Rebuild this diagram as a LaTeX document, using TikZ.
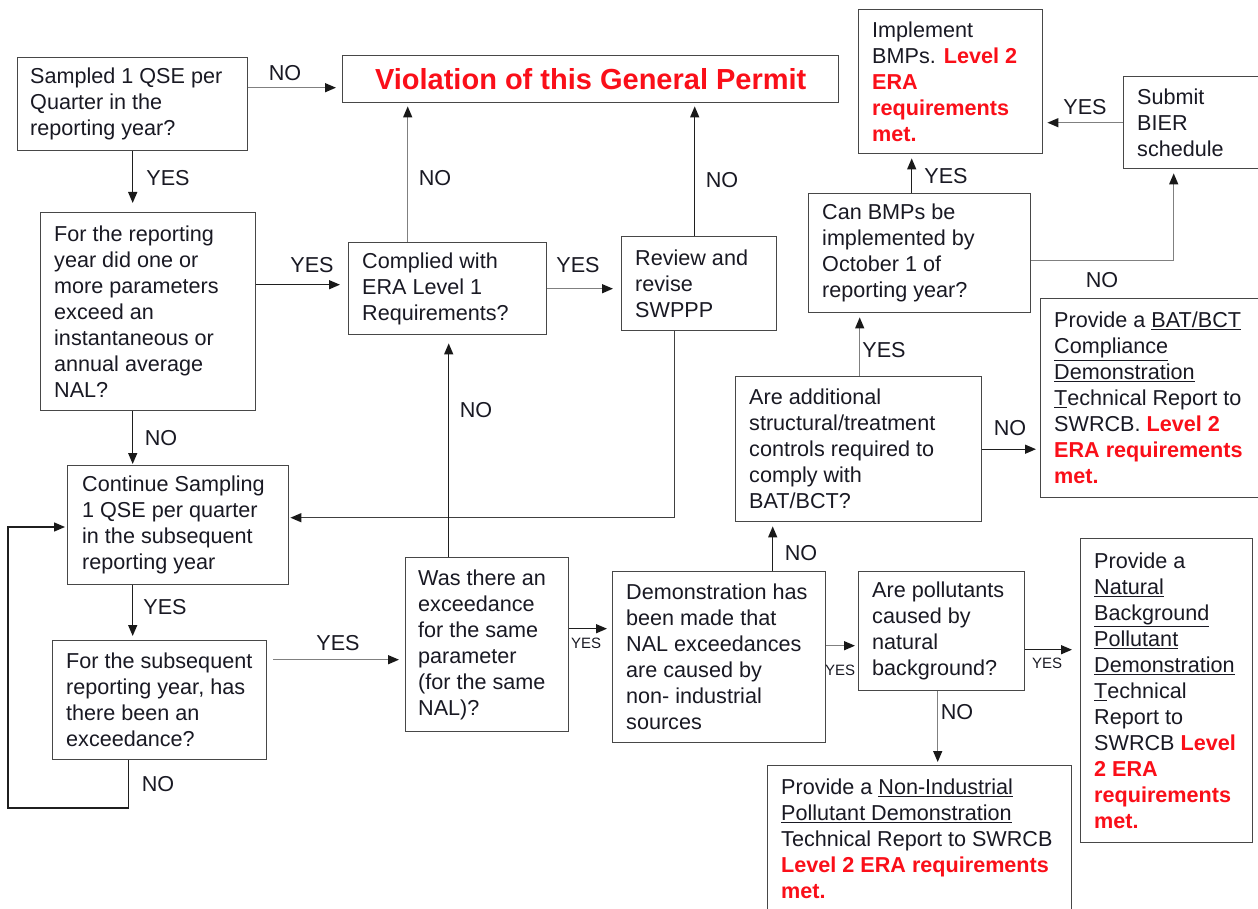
\documentclass[tikz,border=0pt]{standalone}
\usepackage{fontspec}
\setmainfont{Liberation Sans}
\usetikzlibrary{arrows.meta,calc}
\definecolor{era}{RGB}{250,15,25}
\definecolor{ink}{RGB}{25,25,35}
\newcommand{\rd}[1]{\textcolor{era}{\bfseries #1}}
\newcommand{\ulx}[1]{\underline{#1}}
\begin{document}
\begin{tikzpicture}[x=1pt,y=-1pt,
  box/.style={draw=black!72, line width=1.4pt, rectangle, inner sep=0pt, anchor=north west},
  txt/.style={align=left, inner sep=0pt, anchor=west, text=ink, font=\fontsize{21.6}{26}\selectfont},
  lbl/.style={text=ink, font=\fontsize{21.6}{26}\selectfont, inner sep=0pt},
  slbl/.style={text=ink, font=\fontsize{15}{18}\selectfont, inner sep=0pt},
  arr/.style={draw=black!88, line width=1.4pt, -{Triangle[length=11pt,width=9pt,color=black!90]}},
  garr/.style={arr, draw=black!50}]
\clip (0,0) rectangle (1258,909);
\fill[white] (0,0) rectangle (1258,909);

% ---------- boxes ----------
\node[box, minimum width=230pt, minimum height=93pt] (q1) at (17,57) {};
\node[txt] (q1t) at ([xshift=13pt]q1.west) {Sampled 1 QSE per\\Quarter in the\\reporting year?};

\node[box, minimum width=496pt, minimum height=47pt] (viol) at (342,55) {};
\node[text=era, font=\fontsize{29}{34}\selectfont\bfseries, inner sep=0pt] (violt) at (viol.center) {Violation of this General Permit};

\node[box, minimum width=184pt, minimum height=144pt] (impl) at (858,9) {};
\node[txt] (implt) at ([xshift=14pt]impl.west) {Implement\\BMPs. \rd{Level 2}\\\rd{ERA}\\\rd{requirements}\\\rd{met.}};

\node[box, minimum width=139pt, minimum height=92pt] (bier) at (1123,76) {};
\node[txt] (biert) at ([xshift=14pt]bier.west) {Submit\\BIER\\schedule};

\node[box, minimum width=222pt, minimum height=119pt] (canbmp) at (808,193) {};
\node[txt] (canbmpt) at ([xshift=14pt]canbmp.west) {Can BMPs be\\implemented by\\October 1 of\\reporting year?};

\node[box, minimum width=215pt, minimum height=198pt] (q2) at (40,212) {};
\node[txt] (q2t) at ([xshift=14pt]q2.west) {For the reporting\\year did one or\\more parameters\\exceed an\\instantaneous or\\annual average\\NAL?};

\node[box, minimum width=198pt, minimum height=92pt] (comp) at (348,242) {};
\node[txt] (compt) at ([xshift=14pt]comp.west) {Complied with\\ERA Level 1\\Requirements?};

\node[box, minimum width=155pt, minimum height=94pt] (rev) at (621,236) {};
\node[txt] (revt) at ([xshift=14pt]rev.west) {Review and\\revise\\SWPPP};

\node[box, minimum width=218pt, minimum height=199pt] (batbox) at (1040,298) {};
\node[txt] (batboxt) at ([xshift=14pt]batbox.west) {Provide a \ulx{BAT/BCT}\\\ulx{Compliance}\\\ulx{Demonstration}\\\ulx{T}echnical Report to\\SWRCB. \rd{Level 2}\\\rd{ERA requirements}\\\rd{met.}};

\node[box, minimum width=246pt, minimum height=145pt] (addl) at (735,376) {};
\node[txt] (addlt) at ([xshift=14pt]addl.west) {Are additional\\structural/treatment\\controls required to\\comply with\\BAT/BCT?};

\node[box, minimum width=221pt, minimum height=119pt] (cont) at (67,465) {};
\node[txt] (contt) at ([xshift=15pt]cont.west) {Continue Sampling\\1 QSE per quarter\\in the subsequent\\reporting year};

\node[box, minimum width=163pt, minimum height=174pt] (was) at (405,557) {};
\node[txt] (wast) at ([xshift=13pt]was.west) {Was there an\\exceedance\\for the same\\parameter\\(for the same\\NAL)?};

\node[box, minimum width=214pt, minimum height=119pt] (q3) at (52,640) {};
\node[txt] (q3t) at ([xshift=14pt]q3.west) {For the subsequent\\reporting year, has\\there been an\\exceedance?};

\node[box, minimum width=213pt, minimum height=171pt] (demo) at (612,571) {};
\node[txt] (demot) at ([xshift=14pt]demo.west) {Demonstration has\\been made that\\NAL exceedances\\are caused by\\non- industrial\\sources};

\node[box, minimum width=166pt, minimum height=119pt] (poll) at (858,571) {};
\node[txt] (pollt) at ([xshift=14pt]poll.west) {Are pollutants\\caused by\\natural\\background?};

\node[box, minimum width=172pt, minimum height=304pt] (nat) at (1080,538) {};
\node[txt] (natt) at ([xshift=14pt]nat.west) {Provide a\\\ulx{Natural}\\\ulx{Background}\\\ulx{Pollutant}\\\ulx{Demonstration}\\\ulx{T}echnical\\Report to\\SWRCB \rd{Level}\\\rd{2 ERA}\\\rd{requirements}\\\rd{met.}};

\node[box, minimum width=304pt, minimum height=146pt] (nonind) at (767,765) {};
\node[txt] (nonindt) at ([xshift=14pt]nonind.west) {Provide a \ulx{Non-Industrial}\\\ulx{Pollutant Demonstration}\\Technical Report to SWRCB\\\rd{Level 2 ERA requirements}\\\rd{met.}};

% ---------- connectors ----------
\draw[garr, shorten >=6pt] ([yshift=16.5pt]q1.east) coordinate (c1) -- (c1 -| viol.west)
  node[lbl] (l1) at (285,73) {NO};
\draw[arr, shorten >=9pt] (q1.south) -- (q1.south |- q2.north)
  node[lbl] (l2) at (168,178) {YES};
\draw[arr, shorten >=8pt] ([yshift=27pt]q2.east) coordinate (c3) -- (c3 -| comp.west)
  node[lbl] (l3) at (312,265) {YES};
\draw[garr, shorten >=3pt] ([xshift=-40pt]comp.north) coordinate (c4) -- (c4 |- viol.south)
  node[lbl] (l4) at (435,178) {NO};
\draw[garr, shorten >=8pt] (comp.east) -- (comp.east -| rev.west)
  node[lbl] (l5) at (578,265) {YES};
\draw[arr, shorten >=3pt] ([xshift=-4.5pt]rev.north) coordinate (c6) -- (c6 |- viol.south)
  node[lbl] (l6) at (722,180) {NO};
\draw[arr, draw=black!75, shorten >=1pt] ([xshift=-24.5pt]rev.south) |- ([yshift=7.5pt]cont.east);
\draw[arr, shorten >=8pt] ([xshift=-38.5pt]was.north) coordinate (c8) -- (c8 |- comp.south)
  node[lbl] (l8) at (476,410) {NO};
\draw[arr, shorten >=1pt] ([xshift=-15.5pt]q2.south) coordinate (c9) -- (c9 |- cont.north)
  node[lbl] (l9) at (161,438) {NO};
\draw[arr, shorten >=4pt] ([xshift=-45.5pt]cont.south) coordinate (c10) -- (c10 |- q3.north)
  node[lbl] (l10) at (165,607) {YES};
\draw[garr, shorten <=6pt, shorten >=6pt] ([yshift=40.5pt]q3.east) coordinate (c11) -- (c11 -| was.west)
  node[lbl] (l11) at (338,643) {YES};
\coordinate (lpb) at (8,808);
\coordinate (lpt) at (8,527);
\draw[arr, shorten >=2pt] ([xshift=-31pt]q3.south) coordinate (c12) -- (c12 |- lpb) -- (lpb) -- (lpt) -- (lpt -| cont.west)
  node[lbl] (l12) at (158,784) {NO};
\draw[arr, shorten >=5pt] ([yshift=16pt]was.east) coordinate (c13) -- (c13 -| demo.west)
  node[slbl] (l13) at (586,643) {YES};
\draw[arr, shorten >=4pt] ([xshift=53.5pt]demo.north) coordinate (c14) -- (c14 |- addl.south)
  node[lbl] (l14) at (801,553) {NO};
\draw[garr, shorten >=3pt] ([yshift=11.5pt]demo.east) coordinate (c15) -- (c15 -| poll.west)
  node[slbl] (l15) at (840,670) {YES};
\draw[garr, shorten >=4pt] ([xshift=1pt]addl.north) coordinate (c16) -- (c16 |- canbmp.south)
  node[lbl] (l16) at (884,350) {YES};
\draw[arr, shorten >=4pt] (addl.east) -- (addl.east -| batbox.west)
  node[lbl] (l17) at (1010,428) {NO};
\draw[arr, shorten >=4pt] ([xshift=-8pt]canbmp.north) coordinate (c18) -- (c18 |- impl.south)
  node[lbl] (l18) at (946,176) {YES};
\draw[garr, shorten >=4pt] ([yshift=-7.5pt]canbmp.east) -| ([xshift=-19.5pt]bier.south)
  node[lbl] (l19) at (1102,280) {NO};
\draw[garr, shorten >=4pt] (bier.west) -- (bier.west -| impl.east)
  node[lbl] (l20) at (1085,107) {YES};
\draw[arr, shorten >=8pt] ([yshift=-18.5pt]poll.east) coordinate (c21) -- (c21 -| nat.west)
  node[slbl] (l21) at (1047,663) {YES};
\draw[garr, shorten >=3pt] ([xshift=-4pt]poll.south) coordinate (c22) -- (c22 |- nonind.north)
  node[lbl] (l22) at (957,712) {NO};
\end{tikzpicture}
\end{document}
